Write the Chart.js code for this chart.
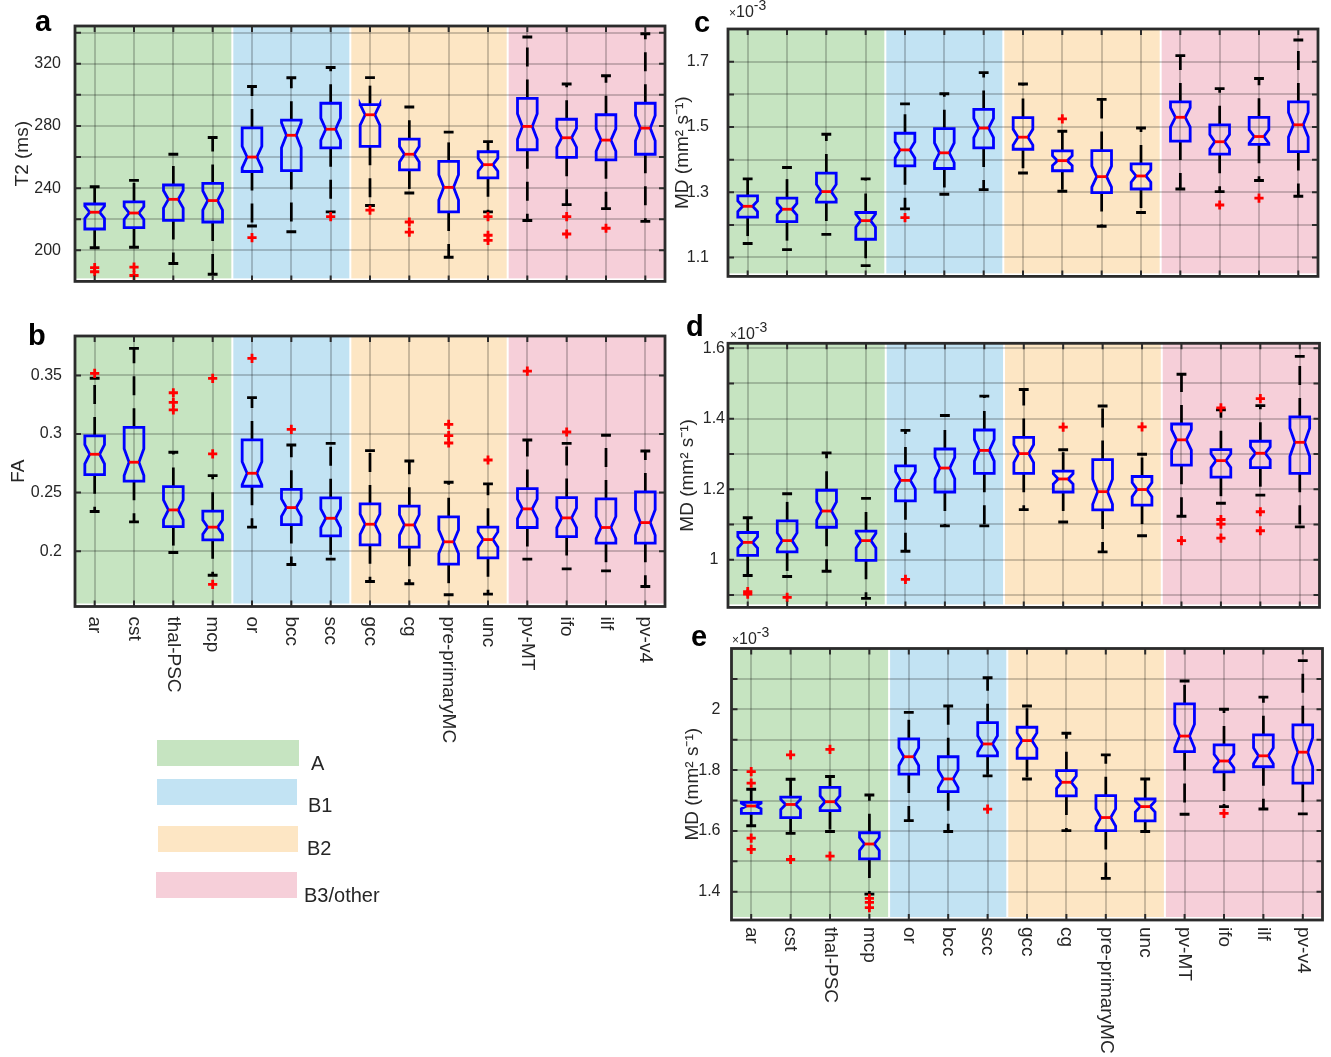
<!DOCTYPE html>
<html>
<head>
<meta charset="utf-8">
<script src="https://cdn.jsdelivr.net/npm/chart.js@4.4.1/dist/chart.umd.min.js"></script>
<style>
  html, body { margin: 0; padding: 0; background: #fff; }
  #fig { position: relative; width: 1331px; height: 1057px; overflow: hidden;
         font-family: Arial, "Liberation Sans", Helvetica, sans-serif; color: #262626; }
  #fig canvas { position: absolute; }
  .tag { position: absolute; font-weight: bold; font-size: 29px; line-height: 1; color: #000; }
  .expo { position: absolute; font-size: 16px; line-height: 1; white-space: nowrap; }
  .expo .x { font-size: 12px; }
  .expo .p { position: relative; top: -7px; font-size: 14px; }
  .key { position: absolute; }
  .keytext { position: absolute; font-size: 20px; line-height: 1; white-space: nowrap; }
</style>
</head>
<body>
<div id="fig">
  <canvas id="pa" width="680" height="305" style="left:0;top:0"></canvas>
  <canvas id="pb" width="680" height="440" style="left:0;top:310px"></canvas>
  <canvas id="pc" width="691" height="305" style="left:640px;top:0"></canvas>
  <canvas id="pd" width="691" height="310" style="left:640px;top:310px"></canvas>
  <canvas id="pe" width="691" height="437" style="left:640px;top:620px"></canvas>

  <div class="tag" style="left:35px;top:7px">a</div>
  <div class="tag" style="left:28px;top:321px">b</div>
  <div class="tag" style="left:694px;top:8px">c</div>
  <div class="tag" style="left:686px;top:312px">d</div>
  <div class="tag" style="left:691px;top:622px">e</div>

  <div class="expo" style="left:729px;top:4px"><span class="x">×</span>10<span class="p">-3</span></div>
  <div class="expo" style="left:730px;top:326px"><span class="x">×</span>10<span class="p">-3</span></div>
  <div class="expo" style="left:732px;top:631px"><span class="x">×</span>10<span class="p">-3</span></div>

  <div id="legend"></div>
</div>

<script>
// ---- categories and groups ----
const categories = ['ar', 'cst', 'thal-PSC', 'mcp', 'or', 'bcc', 'scc', 'gcc', 'cg',
                    'pre-primaryMC', 'unc', 'pv-MT', 'ifo', 'ilf', 'pv-v4'];
const groupNames  = ['A', 'B1', 'B2', 'B3/other'];
const groupSizes  = [4, 3, 4, 4];
const groupColors = ['#c6e4c1', '#c2e3f3', '#fde6c4', '#f6cfd9'];
const sampleCount = 40;   // subjects per tract, sets notch size

// ---- a: T2 (ms) ----
const aLo  = [201.6, 202.0, 191.5, 184.6, 215.6, 211.9, 224.7, 228.8, 236.9, 195.5, 224.7, 219.2, 229.4, 226.8, 218.6];
const aQ1  = [213.7, 214.6, 219.2, 218.2, 250.7, 251.3, 265.9, 266.9, 251.7, 224.7, 246.6, 264.7, 259.8, 258.2, 261.8];
const aMed = [224.5, 224.0, 232.8, 232.0, 260.0, 274.0, 277.9, 287.2, 261.8, 240.5, 255.1, 279.7, 272.4, 270.9, 278.6];
const aQ3  = [229.8, 231.2, 242.0, 243.0, 278.7, 283.7, 294.6, 293.7, 271.5, 257.2, 263.4, 297.7, 284.3, 287.2, 294.6];
const aHi  = [240.9, 245.0, 261.8, 272.6, 305.4, 311.0, 317.6, 311.1, 292.2, 276.0, 269.9, 337.2, 307.0, 312.3, 339.3];
const aOut = [[1, 188.8], [1, 186.2], [2, 189.2], [2, 183.8], [5, 208.1], [7, 221.7], [8, 225.9],
              [9, 218.2], [9, 211.7], [11, 221.7], [11, 209.7], [11, 206.4], [13, 221.7], [13, 210.5], [14, 214.2]];
const aTicks  = [200, 220, 240, 260, 280, 300, 320, 340];
const aLabels = [200, 240, 280, 320];

// ---- b: FA ----
const bLo  = [0.2338, 0.2250, 0.1989, 0.1795, 0.2205, 0.1886, 0.1932, 0.1741, 0.1722, 0.1628, 0.1634, 0.1932, 0.1849, 0.1832, 0.1699];
const bQ1  = [0.2653, 0.2597, 0.2210, 0.2097, 0.2554, 0.2227, 0.2131, 0.2054, 0.2034, 0.1889, 0.1943, 0.2202, 0.2125, 0.2068, 0.2068];
const bMed = [0.2827, 0.2759, 0.2352, 0.2205, 0.2665, 0.2372, 0.2281, 0.2230, 0.2224, 0.2080, 0.2099, 0.2361, 0.2284, 0.2202, 0.2244];
const bQ3  = [0.2983, 0.3057, 0.2551, 0.2341, 0.2949, 0.2528, 0.2455, 0.2403, 0.2384, 0.2293, 0.2205, 0.2534, 0.2457, 0.2446, 0.2506];
const bHi  = [0.3475, 0.3730, 0.2844, 0.2645, 0.3310, 0.2906, 0.2920, 0.2858, 0.2770, 0.2588, 0.2574, 0.2949, 0.2920, 0.2989, 0.2855];
const bOut = [[1, 0.3517], [3, 0.3352], [3, 0.3270], [3, 0.3205], [4, 0.3474], [4, 0.2830], [4, 0.1716],
              [5, 0.3645], [6, 0.3040], [10, 0.3082], [10, 0.2986], [10, 0.2923], [11, 0.2778], [12, 0.3537], [13, 0.3017]];
const bTicks  = [0.2, 0.25, 0.3, 0.35];
const bLabels = [0.2, 0.25, 0.3, 0.35];

// ---- c: MD (x1e-3 mm^2/s) ----
const cLo  = [1.143, 1.124, 1.171, 1.075, 1.249, 1.294, 1.308, 1.359, 1.303, 1.196, 1.238, 1.310, 1.302, 1.336, 1.288];
const cQ1  = [1.224, 1.210, 1.270, 1.156, 1.381, 1.373, 1.436, 1.432, 1.366, 1.299, 1.310, 1.457, 1.417, 1.447, 1.425];
const cMed = [1.257, 1.248, 1.302, 1.213, 1.430, 1.421, 1.497, 1.469, 1.397, 1.348, 1.350, 1.530, 1.455, 1.471, 1.507];
const cQ3  = [1.289, 1.282, 1.359, 1.238, 1.481, 1.495, 1.554, 1.529, 1.427, 1.428, 1.387, 1.577, 1.507, 1.530, 1.577];
const cHi  = [1.341, 1.376, 1.478, 1.341, 1.571, 1.602, 1.667, 1.632, 1.487, 1.585, 1.497, 1.719, 1.618, 1.649, 1.767];
const cOut = [[5, 1.222], [9, 1.525], [13, 1.261], [14, 1.282]];
const cTicks  = [1.1, 1.2, 1.3, 1.4, 1.5, 1.6, 1.7];
const cLabels = [1.1, 1.3, 1.5, 1.7];

// ---- d: MD (x1e-3 mm^2/s) ----
const dLo  = [0.955, 0.952, 0.967, 0.890, 1.024, 1.096, 1.096, 1.142, 1.107, 1.022, 1.068, 1.123, 1.160, 1.183, 1.093];
const dQ1  = [1.012, 1.022, 1.092, 0.998, 1.167, 1.192, 1.245, 1.245, 1.192, 1.141, 1.155, 1.268, 1.234, 1.261, 1.245];
const dMed = [1.049, 1.054, 1.138, 1.054, 1.225, 1.260, 1.310, 1.301, 1.229, 1.193, 1.199, 1.340, 1.281, 1.302, 1.333];
const dQ3  = [1.077, 1.110, 1.197, 1.081, 1.266, 1.314, 1.368, 1.347, 1.251, 1.284, 1.236, 1.385, 1.312, 1.336, 1.405];
const dHi  = [1.119, 1.187, 1.303, 1.174, 1.367, 1.409, 1.464, 1.483, 1.312, 1.436, 1.299, 1.526, 1.425, 1.437, 1.577];
const dOut = [[1, 0.909], [1, 0.902], [2, 0.893], [5, 0.944], [9, 1.376], [11, 1.377], [12, 1.054],
              [13, 1.431], [13, 1.114], [13, 1.101], [13, 1.061], [14, 1.457], [14, 1.136], [14, 1.082]];
const dTicks  = [0.9, 1.0, 1.1, 1.2, 1.3, 1.4, 1.5, 1.6];
const dLabels = [1, 1.2, 1.4, 1.6];

// ---- e: MD (x1e-3 mm^2/s) ----
const eLo  = [1.617, 1.592, 1.598, 1.392, 1.634, 1.598, 1.781, 1.771, 1.601, 1.444, 1.598, 1.655, 1.680, 1.672, 1.656];
const eQ1  = [1.658, 1.644, 1.667, 1.508, 1.787, 1.729, 1.847, 1.839, 1.715, 1.601, 1.633, 1.861, 1.794, 1.811, 1.757];
const eMed = [1.682, 1.687, 1.696, 1.557, 1.844, 1.771, 1.886, 1.897, 1.760, 1.644, 1.680, 1.912, 1.830, 1.847, 1.859];
const eQ3  = [1.694, 1.711, 1.743, 1.594, 1.903, 1.844, 1.956, 1.941, 1.798, 1.716, 1.705, 2.018, 1.883, 1.916, 1.949];
const eHi  = [1.737, 1.770, 1.779, 1.718, 1.990, 2.011, 2.104, 2.011, 1.921, 1.850, 1.771, 2.093, 2.000, 2.040, 2.160];
const eOut = [[1, 1.795], [1, 1.757], [1, 1.576], [1, 1.539], [2, 1.850], [2, 1.506], [3, 1.868], [3, 1.517],
              [4, 1.378], [4, 1.365], [4, 1.348], [7, 1.672], [13, 1.658]];
const eTicks  = [1.4, 1.5, 1.6, 1.7, 1.8, 1.9, 2.0, 2.1];
const eLabels = [1.4, 1.6, 1.8, 2];

// ---- shared styling ----
const FONT = 'Arial, "Liberation Sans", Helvetica, sans-serif';
const INK = '#262626';
const GRID = 'rgba(0,0,0,0.2)';
const MD_TITLE = 'MD (mm\u00B2 s\u207B\u00B9)';

// Draws the group backgrounds, the notched boxes and the framed axes for one panel.
function panelPlugin(p) {
  return {
    id: 'notchedBoxes',
    beforeDraw(chart) {
      const { ctx, chartArea: ca, scales: { x } } = chart;
      ctx.save();
      ctx.fillStyle = '#ffffff';
      ctx.fillRect(ca.left, ca.top, ca.width, ca.height);
      let start = 0.5;
      groupSizes.forEach((n, g) => {
        const end = start + n;
        const l = x.getPixelForValue(start) + (g > 0 ? 1 : 0);
        const r = x.getPixelForValue(end) - (g < groupSizes.length - 1 ? 1 : 0);
        ctx.fillStyle = groupColors[g];
        ctx.fillRect(l, ca.top, r - l, ca.height - 3);
        start = end;
      });
      ctx.restore();
    },
    beforeDatasetsDraw(chart) {
      const { ctx, scales: { x, y } } = chart;
      ctx.save();
      ctx.lineCap = 'butt';
      ctx.lineJoin = 'miter';
      categories.forEach((_, i) => {
        const xc = x.getPixelForValue(i + 1);
        const hw = x.getPixelForValue(i + 1.25) - xc;
        const capW = hw / 2;
        const q1 = p.q1[i], q3 = p.q3[i], med = p.med[i];
        const notch = 1.57 * (q3 - q1) / Math.sqrt(sampleCount);
        const Y = v => y.getPixelForValue(v);

        // whiskers
        ctx.strokeStyle = '#000';
        ctx.lineWidth = 2.7;
        ctx.setLineDash([19, 13]);
        ctx.beginPath(); ctx.moveTo(xc, Y(q3)); ctx.lineTo(xc, Y(p.hi[i])); ctx.stroke();
        ctx.beginPath(); ctx.moveTo(xc, Y(q1)); ctx.lineTo(xc, Y(p.lo[i])); ctx.stroke();
        ctx.setLineDash([]);
        ctx.lineWidth = 2.9;
        ctx.beginPath();
        ctx.moveTo(xc - capW, Y(p.hi[i])); ctx.lineTo(xc + capW, Y(p.hi[i]));
        ctx.moveTo(xc - capW, Y(p.lo[i])); ctx.lineTo(xc + capW, Y(p.lo[i]));
        ctx.stroke();

        // notched box
        ctx.strokeStyle = '#0000ff';
        ctx.lineWidth = 2.8;
        ctx.beginPath();
        ctx.moveTo(xc - hw, Y(q1));
        ctx.lineTo(xc - hw, Y(med - notch));
        ctx.lineTo(xc - hw / 2, Y(med));
        ctx.lineTo(xc - hw, Y(med + notch));
        ctx.lineTo(xc - hw, Y(q3));
        ctx.lineTo(xc + hw, Y(q3));
        ctx.lineTo(xc + hw, Y(med + notch));
        ctx.lineTo(xc + hw / 2, Y(med));
        ctx.lineTo(xc + hw, Y(med - notch));
        ctx.lineTo(xc + hw, Y(q1));
        ctx.closePath();
        ctx.stroke();

        // median
        ctx.strokeStyle = '#ff0000';
        ctx.lineWidth = 2.8;
        ctx.beginPath();
        ctx.moveTo(xc - hw / 2, Y(med)); ctx.lineTo(xc + hw / 2, Y(med));
        ctx.stroke();
      });
      ctx.restore();
    },
    afterDraw(chart) {
      const { ctx, chartArea: ca, scales: { x, y } } = chart;
      ctx.save();
      ctx.strokeStyle = '#2b2b2b';
      ctx.lineWidth = 2;
      const tl = 6;
      ctx.beginPath();
      categories.forEach((_, i) => {
        const px = x.getPixelForValue(i + 1);
        ctx.moveTo(px, ca.bottom); ctx.lineTo(px, ca.bottom - tl);
        ctx.moveTo(px, ca.top); ctx.lineTo(px, ca.top + tl);
      });
      p.ticks.forEach(v => {
        const py = y.getPixelForValue(v);
        ctx.moveTo(ca.left, py); ctx.lineTo(ca.left + tl, py);
        ctx.moveTo(ca.right, py); ctx.lineTo(ca.right - tl, py);
      });
      ctx.stroke();
      ctx.lineWidth = 2.8;
      ctx.strokeRect(ca.left, ca.top, ca.width, ca.height);

      if (p.showCats) {
        ctx.font = '19px ' + FONT;
        ctx.fillStyle = INK;
        ctx.textAlign = 'left';
        ctx.textBaseline = 'middle';
        categories.forEach((c, i) => {
          ctx.save();
          ctx.translate(x.getPixelForValue(i + 1), ca.bottom + p.catGap);
          ctx.rotate(Math.PI / 2);
          ctx.fillText(c, 0, 0);
          ctx.restore();
        });
      }
      ctx.restore();
    }
  };
}

function makePanel(p) {
  const outliers = p.out.map(o => ({ x: o[0], y: o[1] }));
  return new Chart(document.getElementById(p.id), {
    type: 'scatter',
    data: {
      datasets: [{
        data: outliers,
        pointStyle: 'cross',
        radius: 4.6,
        hoverRadius: 4.6,
        borderColor: '#ff0000',
        backgroundColor: '#ff0000',
        borderWidth: 2.8
      }]
    },
    options: {
      responsive: false,
      animation: false,
      events: [],
      layout: { padding: p.pad },
      plugins: { legend: { display: false }, tooltip: { enabled: false } },
      scales: {
        x: {
          type: 'linear', min: 0.5, max: 15.5, bounds: 'data',
          afterBuildTicks: ax => { ax.ticks = categories.map((_, i) => ({ value: i + 1 })); },
          afterFit: ax => { ax.height = 0; },
          ticks: { display: false },
          grid: { color: GRID, lineWidth: 2, drawTicks: false },
          border: { display: false }
        },
        y: {
          type: 'linear', min: p.min, max: p.max, bounds: 'data',
          afterBuildTicks: ax => { ax.ticks = p.ticks.map(v => ({ value: v })); },
          afterFit: ax => { ax.width = p.axisW; },
          ticks: {
            autoSkip: false,
            padding: p.tickPad,
            crossAlign: p.cross || 'near',
            color: INK,
            font: { family: FONT, size: 16 },
            callback: v => (p.labels.includes(v) ? String(v) : '')
          },
          grid: { color: GRID, lineWidth: 2, drawTicks: false },
          border: { display: false },
          title: {
            display: true, text: p.title, color: INK,
            font: { family: FONT, size: 19 },
            padding: { top: p.titlePad, bottom: 0 }
          }
        }
      }
    },
    plugins: [panelPlugin(p)]
  });
}

makePanel({ id: 'pa', lo: aLo, q1: aQ1, med: aMed, q3: aQ3, hi: aHi, out: aOut,
  ticks: aTicks, labels: aLabels, min: 180, max: 344.3, title: 'T2 (ms)',
  pad: { left: 0, top: 26, right: 15, bottom: 8 }, axisW: 75, tickPad: 14, titlePad: 11.5 });

makePanel({ id: 'pb', lo: bLo, q1: bQ1, med: bMed, q3: bQ3, hi: bHi, out: bOut,
  ticks: bTicks, labels: bLabels, min: 0.1528, max: 0.3836, title: 'FA',
  pad: { left: 0, top: 26, right: 15, bottom: 143.5 }, axisW: 75, tickPad: 13, titlePad: 7,
  showCats: true, catGap: 10 });

makePanel({ id: 'pc', lo: cLo, q1: cQ1, med: cMed, q3: cQ3, hi: cHi, out: cOut,
  ticks: cTicks, labels: cLabels, min: 1.042, max: 1.8008, title: MD_TITLE,
  pad: { left: 0, top: 29, right: 13, bottom: 5 }, axisW: 88, tickPad: 19, titlePad: 31 });

makePanel({ id: 'pd', lo: dLo, q1: dQ1, med: dMed, q3: dQ3, hi: dHi, out: dOut,
  ticks: dTicks, labels: dLabels, min: 0.8645, max: 1.614, title: MD_TITLE,
  pad: { left: 0, top: 33.3, right: 11.5, bottom: 5.7 }, axisW: 88, tickPad: 3, cross: 'center', titlePad: 36 });

makePanel({ id: 'pe', lo: eLo, q1: eQ1, med: eMed, q3: eQ3, hi: eHi, out: eOut,
  ticks: eTicks, labels: eLabels, min: 1.307, max: 2.2, title: MD_TITLE,
  pad: { left: 0, top: 28.5, right: 8.5, bottom: 137 }, axisW: 91.5, tickPad: 11, titlePad: 41,
  showCats: true, catGap: 7 });

// ---- group key ----
const keyBoxes = [[157, 740, 142, 26], [157, 779, 140, 26], [158, 826, 140, 26], [156, 872, 141, 26]];
const keyText  = [[311, 753], [308, 795], [307, 838], [304, 885]];
const legend = document.getElementById('legend');
groupNames.forEach((name, g) => {
  const b = document.createElement('div');
  b.className = 'key';
  const [l, t, w, h] = keyBoxes[g];
  b.style.cssText = `left:${l}px;top:${t}px;width:${w}px;height:${h}px;background:${groupColors[g]}`;
  legend.appendChild(b);
  const s = document.createElement('div');
  s.className = 'keytext';
  s.style.left = keyText[g][0] + 'px';
  s.style.top = keyText[g][1] + 'px';
  s.textContent = name;
  legend.appendChild(s);
});
</script>
</body>
</html>
